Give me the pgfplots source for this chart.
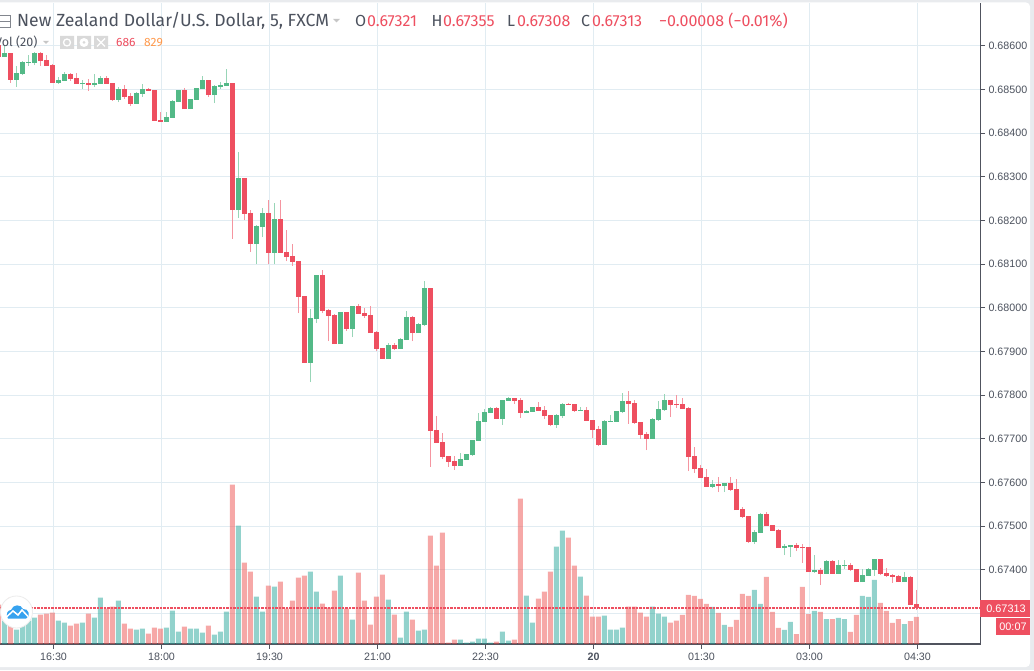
\documentclass[border=0pt]{standalone}
\usepackage{fontspec}
\usepackage{pgfplots}
\usepackage{pgfplotstable}
\usetikzlibrary{decorations.markings}
\pgfplotsset{compat=1.18}
\setmainfont{Liberation Sans}
\newfontfamily\headfont{Fira Sans}
\definecolor{upc}{HTML}{53B987}
\definecolor{dnc}{HTML}{EE4F60}
\definecolor{upv}{HTML}{26A69A}
\definecolor{dnv}{HTML}{EF5350}
\definecolor{gridc}{HTML}{E1ECF2}
\definecolor{axc}{HTML}{50535E}
\definecolor{txt}{HTML}{4C525E}
\definecolor{band}{HTML}{E9EBEE}
\definecolor{logoc}{HTML}{36A2EF}
\definecolor{orng}{HTML}{FF9A4D}
\pgfplotstableread{
k o h l c
-9 0.68602 0.68602 0.68568 0.68574
-7 0.68584 0.68584 0.68515 0.68522
-2 0.68584 0.68586 0.68554 0.68565
-1 0.68568 0.68579 0.68554 0.68554
0 0.68556 0.68558 0.68515 0.68515
3 0.68536 0.68538 0.68520 0.68524
4 0.68526 0.68538 0.68513 0.68513
6 0.68515 0.68524 0.68497 0.68510
9 0.68526 0.68531 0.68513 0.68513
10 0.68515 0.68515 0.68474 0.68476
12 0.68501 0.68510 0.68478 0.68483
13 0.68485 0.68492 0.68462 0.68467
16 0.68501 0.68503 0.68497 0.68497
17 0.68499 0.68499 0.68428 0.68428
18 0.68430 0.68449 0.68426 0.68426
22 0.68499 0.68503 0.68455 0.68455
26 0.68522 0.68522 0.68483 0.68487
30 0.68515 0.68515 0.68158 0.68224
32 0.68297 0.68297 0.68201 0.68215
33 0.68217 0.68224 0.68128 0.68146
36 0.68217 0.68247 0.68100 0.68126
38 0.68203 0.68247 0.68126 0.68126
39 0.68128 0.68178 0.68107 0.68116
40 0.68119 0.68146 0.68096 0.68105
41 0.68107 0.68107 0.67988 0.68025
42 0.68027 0.68027 0.67874 0.67874
45 0.68075 0.68087 0.67988 0.67993
46 0.67995 0.67997 0.67924 0.67981
47 0.67984 0.67986 0.67917 0.67917
49 0.67991 0.67991 0.67947 0.67952
51 0.68004 0.68009 0.67986 0.67986
52 0.67988 0.68000 0.67977 0.67981
53 0.67984 0.68004 0.67942 0.67942
54 0.67945 0.67947 0.67901 0.67906
55 0.67908 0.67908 0.67883 0.67883
57 0.67915 0.67920 0.67903 0.67906
60 0.67979 0.67981 0.67924 0.67942
63 0.68045 0.68045 0.67636 0.67718
64 0.67720 0.67752 0.67691 0.67691
65 0.67693 0.67713 0.67654 0.67658
66 0.67661 0.67661 0.67636 0.67647
67 0.67649 0.67661 0.67629 0.67638
74 0.67771 0.67773 0.67745 0.67745
77 0.67794 0.67794 0.67780 0.67787
78 0.67789 0.67794 0.67748 0.67759
81 0.67773 0.67784 0.67764 0.67764
82 0.67766 0.67775 0.67745 0.67752
83 0.67755 0.67755 0.67729 0.67732
86 0.67780 0.67782 0.67778 0.67778
87 0.67780 0.67780 0.67762 0.67764
89 0.67766 0.67773 0.67741 0.67741
90 0.67743 0.67743 0.67702 0.67720
91 0.67723 0.67729 0.67684 0.67686
96 0.67787 0.67810 0.67734 0.67780
97 0.67782 0.67789 0.67734 0.67736
98 0.67739 0.67739 0.67700 0.67709
99 0.67711 0.67716 0.67674 0.67700
103 0.67789 0.67789 0.67750 0.67778
104 0.67780 0.67800 0.67771 0.67778
105 0.67780 0.67794 0.67768 0.67768
106 0.67771 0.67773 0.67626 0.67658
107 0.67661 0.67681 0.67622 0.67631
108 0.67633 0.67640 0.67610 0.67610
109 0.67613 0.67631 0.67590 0.67590
111 0.67597 0.67613 0.67578 0.67592
113 0.67599 0.67613 0.67581 0.67583
114 0.67585 0.67608 0.67537 0.67537
115 0.67539 0.67544 0.67519 0.67521
116 0.67523 0.67523 0.67462 0.67464
119 0.67528 0.67533 0.67500 0.67500
120 0.67503 0.67503 0.67489 0.67489
121 0.67491 0.67494 0.67450 0.67450
124 0.67457 0.67462 0.67443 0.67450
125 0.67452 0.67459 0.67416 0.67450
126 0.67452 0.67452 0.67395 0.67395
128 0.67400 0.67404 0.67365 0.67391
130 0.67420 0.67423 0.67391 0.67391
133 0.67411 0.67416 0.67397 0.67400
134 0.67402 0.67402 0.67372 0.67372
138 0.67425 0.67425 0.67388 0.67391
139 0.67393 0.67404 0.67384 0.67386
140 0.67388 0.67391 0.67370 0.67384
141 0.67386 0.67388 0.67372 0.67372
143 0.67384 0.67386 0.67320 0.67320
144 0.67321 0.67355 0.67308 0.67313
}\candlesdown
\pgfplotstableread{
k o h l c
-8 0.68574 0.68602 0.68574 0.68584
-6 0.68522 0.68554 0.68506 0.68538
-5 0.68536 0.68565 0.68533 0.68563
-4 0.68561 0.68579 0.68554 0.68563
-3 0.68561 0.68586 0.68556 0.68584
1 0.68515 0.68529 0.68513 0.68522
2 0.68520 0.68540 0.68520 0.68536
5 0.68513 0.68522 0.68501 0.68515
7 0.68510 0.68536 0.68506 0.68515
8 0.68513 0.68531 0.68513 0.68526
11 0.68476 0.68506 0.68471 0.68501
14 0.68467 0.68494 0.68467 0.68492
15 0.68490 0.68513 0.68483 0.68501
19 0.68426 0.68449 0.68426 0.68437
20 0.68435 0.68476 0.68435 0.68474
21 0.68471 0.68499 0.68471 0.68499
23 0.68455 0.68478 0.68455 0.68478
24 0.68476 0.68503 0.68476 0.68503
25 0.68501 0.68531 0.68501 0.68522
27 0.68487 0.68510 0.68469 0.68508
28 0.68506 0.68517 0.68501 0.68510
29 0.68508 0.68547 0.68508 0.68515
31 0.68224 0.68357 0.68206 0.68297
34 0.68146 0.68190 0.68100 0.68187
35 0.68185 0.68229 0.68162 0.68217
37 0.68126 0.68240 0.68100 0.68203
43 0.67874 0.67997 0.67830 0.67977
44 0.67974 0.68075 0.67965 0.68075
48 0.67917 0.67991 0.67917 0.67991
50 0.67952 0.68004 0.67933 0.68004
56 0.67883 0.67920 0.67883 0.67915
58 0.67906 0.67931 0.67906 0.67929
59 0.67926 0.67993 0.67926 0.67979
61 0.67942 0.67965 0.67942 0.67963
62 0.67961 0.68062 0.67958 0.68045
68 0.67638 0.67668 0.67638 0.67654
69 0.67652 0.67665 0.67652 0.67665
70 0.67663 0.67697 0.67661 0.67697
71 0.67695 0.67759 0.67695 0.67741
72 0.67739 0.67768 0.67739 0.67762
73 0.67759 0.67773 0.67759 0.67771
75 0.67745 0.67789 0.67732 0.67789
76 0.67787 0.67796 0.67787 0.67794
79 0.67759 0.67766 0.67759 0.67764
80 0.67762 0.67773 0.67762 0.67773
84 0.67732 0.67757 0.67725 0.67755
85 0.67752 0.67782 0.67748 0.67780
88 0.67764 0.67773 0.67764 0.67766
92 0.67686 0.67743 0.67686 0.67741
93 0.67739 0.67755 0.67739 0.67741
94 0.67739 0.67764 0.67739 0.67764
95 0.67762 0.67805 0.67759 0.67787
100 0.67700 0.67748 0.67700 0.67745
101 0.67743 0.67787 0.67741 0.67768
102 0.67766 0.67803 0.67764 0.67789
110 0.67590 0.67606 0.67587 0.67597
112 0.67592 0.67599 0.67578 0.67599
117 0.67464 0.67491 0.67459 0.67487
118 0.67484 0.67530 0.67484 0.67528
122 0.67450 0.67459 0.67434 0.67455
123 0.67452 0.67457 0.67429 0.67457
127 0.67395 0.67434 0.67393 0.67400
129 0.67391 0.67423 0.67391 0.67420
131 0.67391 0.67423 0.67391 0.67411
132 0.67409 0.67423 0.67402 0.67411
135 0.67372 0.67402 0.67372 0.67388
136 0.67386 0.67404 0.67386 0.67402
137 0.67400 0.67425 0.67386 0.67425
142 0.67372 0.67395 0.67372 0.67384
}\candlesup
\pgfplotstableread{
k v
-9 999
-7 1169
-2 745
-1 771
0 796
3 466
4 517
6 771
9 898
10 949
12 517
13 390
16 263
17 415
18 390
22 440
26 466
30 4049
32 2067
33 1838
36 1482
38 1584
39 898
40 1101
41 1686
42 1736
45 1025
46 923
47 1355
49 898
51 1813
52 1101
53 491
54 1203
55 1762
57 745
60 618
63 2753
64 1990
65 2829
66 34
67 110
74 59
77 110
78 3693
81 1152
82 1330
83 1838
86 2702
87 1990
89 1228
90 695
91 695
96 949
97 949
98 796
99 695
103 542
104 593
105 737
106 1245
107 1220
108 1143
109 1016
111 788
113 432
114 610
115 1270
116 1220
119 1702
120 813
121 407
124 254
125 1448
126 762
128 813
130 635
133 305
134 737
138 1042
139 839
140 534
141 635
143 584
144 686
}\voldown
\pgfplotstableread{
k v
-8 593
-6 364
-5 508
-4 593
-3 669
1 593
2 542
5 542
7 669
8 1177
11 1101
14 364
15 390
19 415
20 847
21 313
23 390
24 390
25 288
27 237
28 313
29 822
31 3007
34 1203
35 822
37 1457
43 1838
44 1330
48 1736
50 618
56 1127
58 161
59 822
61 339
62 364
68 110
69 34
70 59
71 136
72 136
73 34
75 313
76 85
79 1228
80 542
84 2473
85 2880
88 1711
92 720
93 364
94 364
95 415
100 949
101 771
102 695
110 940
112 483
117 1372
118 1016
122 356
123 559
127 839
129 635
131 661
132 635
135 1220
136 1194
137 1626
142 508
}\volup
\pgfplotsset{
  base/.style={
    at={(0pt,26pt)}, anchor=south west, scale only axis,
    width=980.5pt, height=641pt,
    xmin=-8.75, xmax=154.67,
  },
  price/.style={base, ymin=0.672302, ymax=0.686981},
}
\begin{document}
\begin{tikzpicture}
\path[use as bounding box] (0,0) rectangle (1034pt,670pt);
\fill[band] (0,0) rectangle (1034pt,670pt);
\fill[white,rounded corners=4pt] (-10pt,3pt) rectangle (1030pt,667.5pt);
% grid, ticks, labels
\begin{axis}[price,
  axis x line=bottom, axis y line=right,
  axis line style={-, color=axc, line width=1.2pt},
  tick style={color=axc, line width=1pt},
  tick align=outside, major tick length=4.5pt,
  grid=major, grid style={color=gridc, line width=1.1pt},
  xtick={0.17,18.17,36.17,54.17,72.17,90.17,108.17,126.17,144.17},
  xticklabels={16:30,18:00,19:30,21:00,22:30,{\bfseries 20},01:30,03:00,04:30},
  ytick={0.673,0.674,0.675,0.676,0.677,0.678,0.679,0.680,0.681,0.682,0.683,0.684,0.685,0.686},
  yticklabels={,0.67400,0.67500,0.67600,0.67700,0.67800,0.67900,0.68000,0.68100,0.68200,0.68300,0.68400,0.68500,0.68600},
  ticklabel style={font=\fontsize{10.7}{13}\selectfont, text=txt},
  xticklabel style={yshift=-1pt},
]
\end{axis}
% volume
\begin{axis}[base, ymin=0, ymax=16281, axis lines=none, ybar, bar width=5pt]
\addplot[fill=dnv, draw=none, fill opacity=0.5, bar shift=0pt] table[x=k,y=v] {\voldown};
\addplot[fill=upv, draw=none, fill opacity=0.5, bar shift=0pt] table[x=k,y=v] {\volup};
\end{axis}
% candles
\begin{axis}[price, axis lines=none]
\addplot[draw=none, mark=none, error bars/.cd, y dir=plus, y explicit, error mark=none,
  error bar style={draw=dnc!60!white, line width=1pt}]
  table[x=k, y=l, y error expr=\thisrow{h}-\thisrow{l}] {\candlesdown};
\addplot[draw=none, mark=none, error bars/.cd, y dir=plus, y explicit, error mark=none,
  error bar style={draw=upc!60!white, line width=1pt}]
  table[x=k, y=l, y error expr=\thisrow{h}-\thisrow{l}] {\candlesup};
\addplot[draw=none, mark=none, error bars/.cd, y dir=plus, y explicit, error mark=none,
  error bar style={draw=dnc, line width=5pt}]
  table[x=k, y=c, y error expr=\thisrow{o}-\thisrow{c}] {\candlesdown};
\addplot[draw=none, mark=none, error bars/.cd, y dir=plus, y explicit, error mark=none,
  error bar style={draw=upc, line width=5pt}]
  table[x=k, y=o, y error expr=\thisrow{c}-\thisrow{o}] {\candlesup};
\addplot[draw=none, mark=none, postaction={decorate},
  decoration={markings, mark=between positions 0 and 1 step 3.5pt with {\fill[dnc] (-1.2pt,-0.9pt) rectangle (1.2pt,0.9pt);}}]
  coordinates {(-8.75,0.67313) (154.67,0.67313)};
\end{axis}
% furniture, in reference pixels
\begin{scope}[shift={(0,670pt)}, x=1pt, y=-1pt]
  % hamburger icon
  \draw[txt!70!white, line width=0.8pt] (-3,15) rectangle (10,27) (-3,21) -- (10,21);
  % title row
  \node[anchor=base west, inner sep=0, text=txt, font=\headfont\fontsize{17.6}{20}\selectfont] at (17,27) {New Zealand Dollar/U.S. Dollar, 5, FXCM};
  \fill[gray!45] (333,19) -- (340,19) -- (336.5,22.5) -- cycle;
  \begin{scope}[every node/.style={anchor=base west, inner sep=0, font=\headfont\fontsize{16}{18}\selectfont}]
    \node[text=txt] at (355,27) {O};
    \node[text=dnc] at (367,27) {0.67321};
    \node[text=txt] at (431.5,27) {H};
    \node[text=dnc] at (443,27) {0.67355};
    \node[text=txt] at (507,27) {L};
    \node[text=dnc] at (517,27) {0.67308};
    \node[text=txt] at (581,27) {C};
    \node[text=dnc] at (592,27) {0.67313};
    \node[text=dnc] at (659,27) {−0.00008 (−0.01\%)};
  \end{scope}
  % volume row
  \node[anchor=base west, inner sep=0, text=txt, font=\headfont\fontsize{12.5}{15}\selectfont] at (-5,47) {Vol (20)};
  \fill[gray!45] (43,41) -- (49,41) -- (46,44) -- cycle;
  \fill[gray!30] (60,36) rectangle (74,49) (77,36) rectangle (91,49) (94,36) rectangle (108,49);
  \draw[white, line width=1.3pt] (67,42.5) circle (3.5);
  \fill[white] (84,42.5) circle (4.5);
  \fill[gray!30] (84,42.5) circle (1.5);
  \draw[white, line width=1.3pt] (97,38.5) -- (105,46.5) (105,38.5) -- (97,46.5);
  \node[anchor=base west, inner sep=0, text=dnc, font=\headfont\fontsize{12}{15}\selectfont] at (116,47) {686};
  \node[anchor=base west, inner sep=0, text=orng, font=\headfont\fontsize{12}{15}\selectfont] at (144,47) {829};
  % logo
  \fill[white] (16.5,612) circle (16);
  \draw[gray!15, line width=0.8pt] (16.5,612) circle (16);
  \fill[logoc] (8,618.5) .. controls (5,614) and (8,610) .. (11,610)
     .. controls (13,604) and (21,604) .. (23,609)
     .. controls (29,608) and (31,617) .. (26,618.5) -- cycle;
  \draw[white, line width=1.5pt] (7,616.5) -- (13,611) -- (18,615) -- (22,610) -- (28,616.5);
  % price and timer boxes
  \fill[dnc] (980,600) rectangle (1030,616.7);
  \node[text=white, font=\fontsize{10.9}{14}\selectfont] at (1006,608.3) {0.67313};
  \fill[dnc] (996,618) rectangle (1030,634.7);
  \node[text=white, font=\fontsize{10.9}{14}\selectfont] at (1013,626.3) {00:07};
\end{scope}
\end{tikzpicture}
\end{document}
